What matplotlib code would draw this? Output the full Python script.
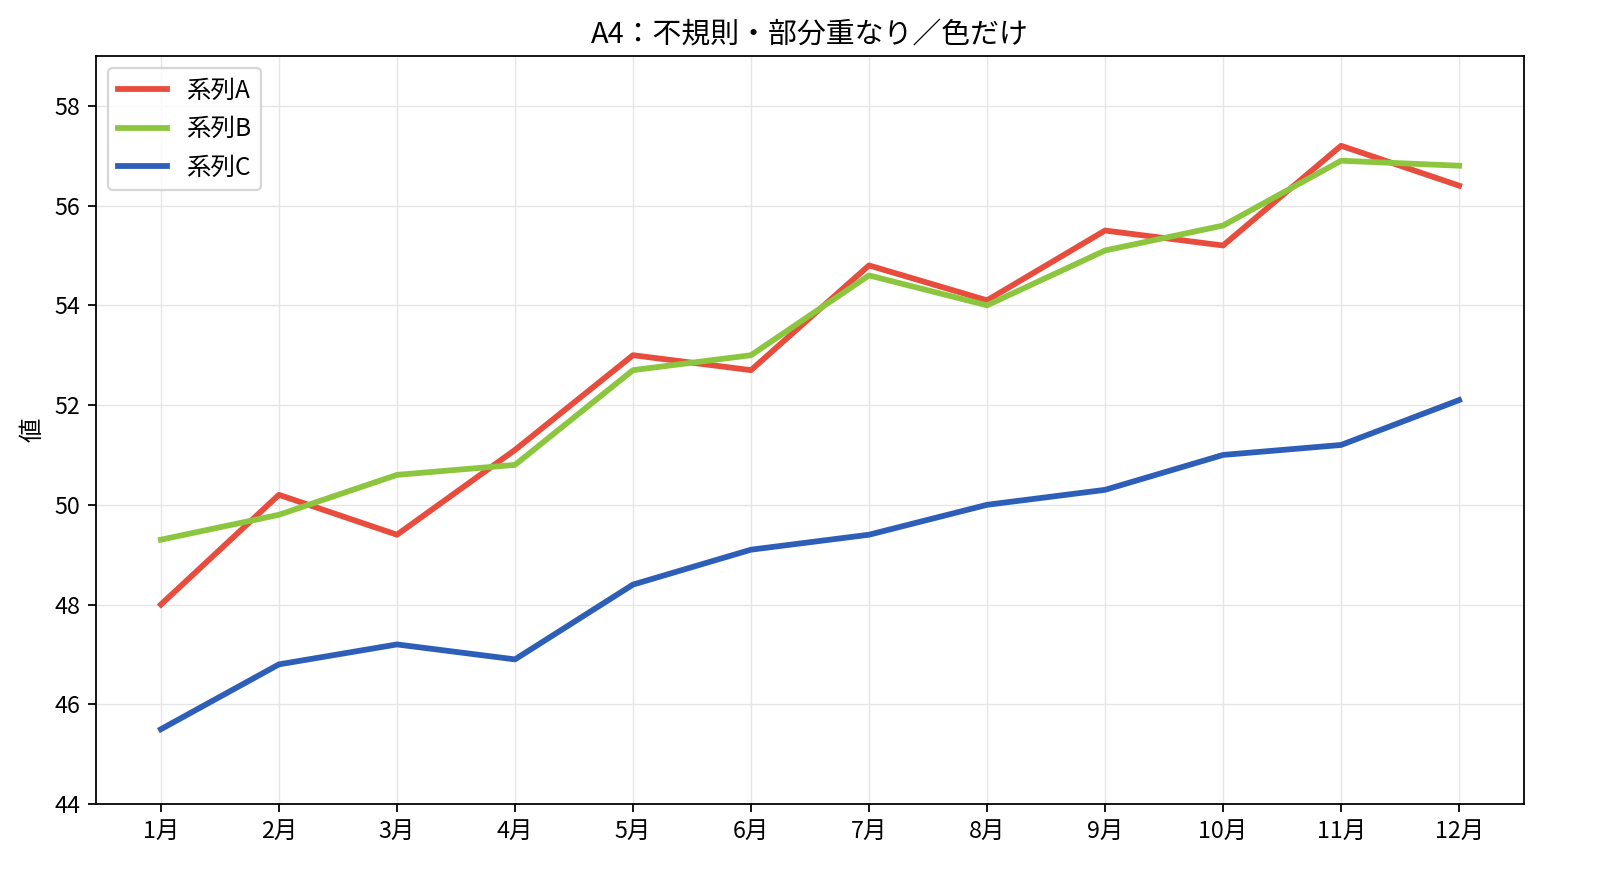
import matplotlib
matplotlib.use("Agg")
import matplotlib.pyplot as plt

plt.rcParams['font.family'] = ['Noto Sans CJK JP', 'DejaVu Sans']

# -----------------------------
# DATA
# -----------------------------
months = ["1月", "2月", "3月", "4月", "5月", "6月",
          "7月", "8月", "9月", "10月", "11月", "12月"]
series_a = [48.0, 50.2, 49.4, 51.1, 53.0, 52.7, 54.8, 54.1, 55.5, 55.2, 57.2, 56.4]
series_b = [49.3, 49.8, 50.6, 50.8, 52.7, 53.0, 54.6, 54.0, 55.1, 55.6, 56.9, 56.8]
series_c = [45.5, 46.8, 47.2, 46.9, 48.4, 49.1, 49.4, 50.0, 50.3, 51.0, 51.2, 52.1]

W, H, DPI = 1601, 882, 160
fig = plt.figure(figsize=(W / DPI, H / DPI), dpi=DPI)
ax = fig.add_axes([96 / W, (H - 804) / H, (1524 - 96) / W, (804 - 56) / H])

x = list(range(len(months)))
ax.plot(x, series_a, color="#e74c3c", linewidth=2.6, label="系列A")
ax.plot(x, series_b, color="#8cc63e", linewidth=2.6, label="系列B")
ax.plot(x, series_c, color="#2e5fb8", linewidth=2.6, label="系列C")

ax.set_xticks(x)
ax.set_xticklabels(months, fontsize=10.5)
ax.set_ylim(44, 59)
ax.set_yticks(range(44, 59, 2))
ax.tick_params(axis="y", labelsize=10.5)
ax.set_ylabel("値", fontsize=11)
ax.set_title("A4：不規則・部分重なり／色だけ", fontsize=13)
ax.grid(True, color="#e6e6e6", linewidth=0.6)
ax.legend(loc="upper left", fontsize=11)

fig.savefig("out.png", dpi=DPI)
